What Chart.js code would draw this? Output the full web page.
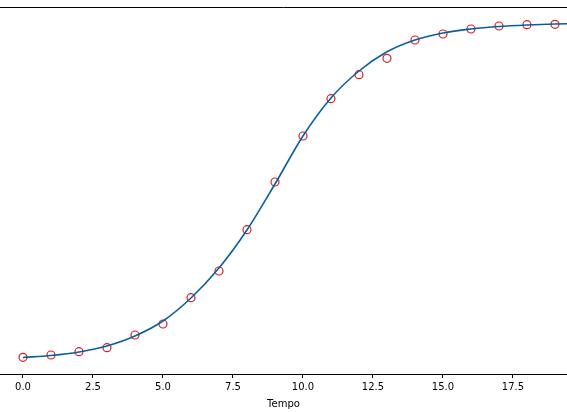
<!DOCTYPE html>
<html>
<head>
<meta charset="utf-8">
<script src="https://cdn.jsdelivr.net/npm/chart.js@4/dist/chart.umd.min.js"></script>
<style>
  html, body { margin: 0; padding: 0; background: #fff; }
  #wrap { width: 567px; height: 412px; }
</style>
</head>
<body>
<div id="wrap"><canvas id="grafico"></canvas></div>
<script>
// osservazioni (cerchi rossi)
const tempo = [0, 1, 2, 3, 4, 5, 6, 7, 8, 9, 10, 11, 12, 13, 14, 15, 16, 17, 18, 19];
const osservati = [4.55, 5.18, 6.08, 7.17, 10.63, 13.62, 20.79, 28.07, 39.32, 52.32,
                   64.85, 75.01, 81.55, 86.02, 91.01, 92.64, 94.0, 94.82, 95.18, 95.29];

// curva adattata (linea blu)
const tempoCurva = [0, 1, 2, 3, 4, 5, 6, 7, 8, 9, 10, 11, 12, 13, 14, 15, 16, 17, 18, 19, 20];
const curva = [4.50, 5.04, 5.99, 7.63, 10.35, 14.44, 20.71, 28.88, 39.24, 51.77,
               64.85, 75.20, 82.56, 87.80, 91.01, 92.92, 94.0, 94.69, 95.10, 95.37, 95.50];

const tickTempo = [0, 2.5, 5, 7.5, 10, 12.5, 15, 17.5];

const puntiCurva = tempoCurva.map((t, i) => ({ x: t, y: curva[i] }));
const puntiOss = tempo.map((t, i) => ({ x: t, y: osservati[i] }));

// linea superiore del riquadro
const bordoSopra = {
  id: "bordoSopra",
  afterDraw(chart) {
    const a = chart.chartArea;
    const ctx = chart.ctx;
    ctx.save();
    ctx.strokeStyle = "#000";
    ctx.lineWidth = 1;
    ctx.beginPath();
    ctx.moveTo(a.left, a.top + 0.5);
    ctx.lineTo(a.right, a.top + 0.5);
    ctx.stroke();
    ctx.restore();
  }
};

Chart.defaults.font.family = "'DejaVu Sans', sans-serif";
Chart.defaults.font.size = 10;
Chart.defaults.color = "#000";

let miCanvas = document.getElementById("grafico").getContext("2d");

new Chart(miCanvas, {
  type: "line",
  data: {
    datasets: [
      {
        label: "fit",
        data: puntiCurva,
        borderColor: "#0a5f9a",
        borderWidth: 1.6,
        pointRadius: 0,
        fill: false,
        cubicInterpolationMode: "monotone"
      },
      {
        label: "dati",
        data: puntiOss,
        showLine: false,
        pointRadius: 4,
        pointBorderWidth: 1.2,
        pointBorderColor: "#d41f2a",
        pointBackgroundColor: "rgba(0,0,0,0)"
      }
    ]
  },
  options: {
    responsive: true,
    maintainAspectRatio: false,
    animation: false,
    layout: { autoPadding: false, padding: { top: 7, left: 0, right: 0, bottom: 2 } },
    plugins: {
      legend: { display: false },
      tooltip: { enabled: false }
    },
    scales: {
      x: {
        type: "linear",
        min: -0.821,
        max: 19.43,
        afterBuildTicks: (axis) => { axis.ticks = tickTempo.map(v => ({ value: v })); },
        ticks: {
          callback: (v) => v.toFixed(1),
          padding: 3,
          maxRotation: 0
        },
        grid: {
          drawOnChartArea: false,
          tickLength: 4,
          tickColor: "#000"
        },
        border: { color: "#000", width: 1 },
        title: {
          display: true,
          text: "Tempo",
          padding: { top: 2, bottom: 0 }
        }
      },
      y: {
        display: false,
        min: 0,
        max: 100
      }
    }
  },
  plugins: [bordoSopra]
});
</script>
</body>
</html>
